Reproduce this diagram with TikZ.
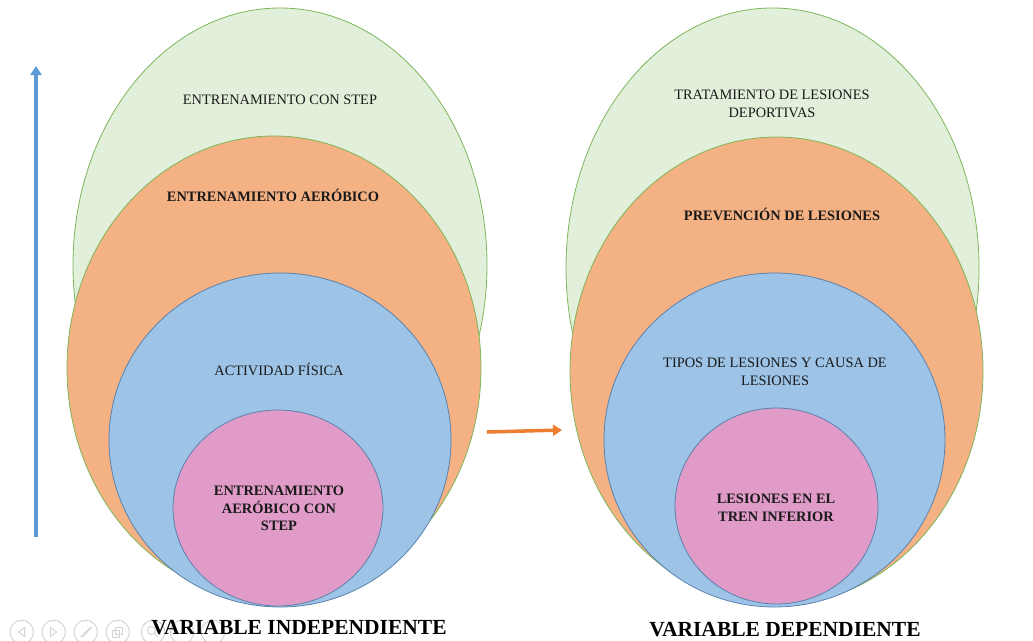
\documentclass[tikz,border=0pt]{standalone}
\usepackage{fontspec}
\setmainfont{Liberation Serif}
\usetikzlibrary{shapes.geometric, arrows.meta}

\definecolor{greenfill}{HTML}{E2EFDA}
\definecolor{greenline}{HTML}{7DB65A}
\definecolor{orangefill}{HTML}{F4B183}
\definecolor{bluefill}{HTML}{9DC3E6}
\definecolor{blueline}{HTML}{5B82AE}
\definecolor{pinkfill}{HTML}{E09BC8}
\definecolor{arrowblue}{HTML}{5B9BD5}
\definecolor{arroworange}{HTML}{ED7D31}
\definecolor{inktext}{HTML}{1A1A1A}
\definecolor{uigray}{HTML}{D4D4D4}

\tikzset{
  oval/.style={ellipse, inner sep=0pt, line width=0.8pt},
  greenoval/.style={oval, fill=greenfill, draw=greenline},
  orangeoval/.style={oval, fill=orangefill, draw=greenline},
  blueoval/.style={oval, fill=bluefill, draw=blueline},
  pinkoval/.style={oval, fill=pinkfill, draw=blueline},
  label/.style={inner sep=0pt, align=center, text=inktext,
    font=\fontsize{14.4}{17.5}\selectfont},
  boldlabel/.style={label, font=\fontsize{14.4}{17.5}\selectfont\bfseries},
  title/.style={inner sep=0pt, anchor=base, text=black,
    font=\fontsize{21.5}{24}\selectfont\bfseries},
  flow/.style={line width=3.5pt, -{Triangle[width=11pt,length=9pt]}},
  uibtn/.style={draw=uigray, line width=1pt, circle, minimum size=23.5pt, inner sep=0pt},
  uiglyph/.style={draw=uigray, line width=1pt}
}

\begin{document}
\begin{tikzpicture}[x=1pt, y=-1pt]
\useasboundingbox (0,0) rectangle (1033,640);

% ---------- left set ----------
\node[greenoval,  minimum width=414pt, minimum height=514pt] (gL) at (280,265) {};
\node[orangeoval, minimum width=414pt, minimum height=464pt] (oL) at (274,368) {};
\node[blueoval,   minimum width=342pt, minimum height=334pt] (bL) at (280,440) {};
\node[pinkoval,   minimum width=210pt, minimum height=196pt] (pL) at (278,508) {};

\node[label, anchor=base]     (tgL) at (280,104) {ENTRENAMIENTO CON STEP};
\node[boldlabel, anchor=base] (toL) at (273,201) {ENTRENAMIENTO AERÓBICO};
\node[label, anchor=base]     (tbL) at (279,375) {ACTIVIDAD FÍSICA};
\node[boldlabel]              (tpL) at (279,508.5) {ENTRENAMIENTO\\AERÓBICO CON\\STEP};

% ---------- right set ----------
\node[greenoval,  minimum width=413pt, minimum height=520pt] (gR) at (772.5,268) {};
\node[orangeoval, minimum width=413pt, minimum height=468pt] (oR) at (776.5,371) {};
\node[blueoval,   minimum width=341pt, minimum height=334pt] (bR) at (774.5,440) {};
\node[pinkoval,   minimum width=203pt, minimum height=196pt] (pR) at (776.5,506) {};

\node[label]                  (tgR) at (772,104) {TRATAMIENTO DE LESIONES\\DEPORTIVAS};
\node[boldlabel, anchor=base] (toR) at (782,220) {PREVENCIÓN DE LESIONES};
\node[label]                  (tbR) at (775,372) {TIPOS DE LESIONES Y CAUSA DE\\LESIONES};
\node[boldlabel]              (tpR) at (776,508) {LESIONES EN EL\\TREN INFERIOR};

% ---------- arrows ----------
\coordinate (upFrom) at (36,537);
\coordinate (upTo)   at (36,66);
\draw[flow, arrowblue] (upFrom) -- (upTo);

\coordinate (rtFrom) at (487,432);
\coordinate (rtTo)   at (562,430);
\draw[flow, arroworange] (rtFrom) -- (rtTo);

% ---------- viewer toolbar ----------
\node[uibtn] (b1) at (21.7,632) {};
\node[uibtn] (b2) at (53.7,632) {};
\node[uibtn] (b3) at (85.7,632) {};
\node[uibtn] (b4) at (117.7,632) {};
\node[uibtn] (b5) at (153,632) {};
\node[uibtn] (b6) at (182,632) {};
\node[uibtn] (b7) at (213,632) {};
\draw[uiglyph] ([xshift=3pt,yshift=4.5pt]b1.center) -- ([xshift=-3pt]b1.center) -- ([xshift=3pt,yshift=-4.5pt]b1.center) -- cycle;
\draw[uiglyph] ([xshift=-3pt,yshift=4.5pt]b2.center) -- ([xshift=3pt]b2.center) -- ([xshift=-3pt,yshift=-4.5pt]b2.center) -- cycle;
\draw[uiglyph] ([xshift=-5pt,yshift=-5pt]b3.center) -- ([xshift=5pt,yshift=5pt]b3.center);
\draw[uiglyph] ([xshift=-3.5pt,yshift=-5pt]b3.center) -- ([xshift=6.5pt,yshift=5pt]b3.center);
\draw[uiglyph] ([xshift=-5pt,yshift=-5pt]b4.center) rectangle ([xshift=2pt,yshift=2pt]b4.center);
\draw[uiglyph] ([xshift=-2pt,yshift=-2pt]b4.center) rectangle ([xshift=5pt,yshift=5pt]b4.center);
\draw[uiglyph] ([xshift=-1.5pt,yshift=1.5pt]b5.center) circle (4pt);
\draw[uiglyph] ([xshift=1.5pt,yshift=-1.5pt]b5.center) -- ([xshift=5pt,yshift=-5pt]b5.center);

% ---------- titles ----------
\node[title] (indep) at (299,634) {VARIABLE INDEPENDIENTE};
\node[title] (dep)   at (785,636) {VARIABLE DEPENDIENTE};
\end{tikzpicture}
\end{document}
